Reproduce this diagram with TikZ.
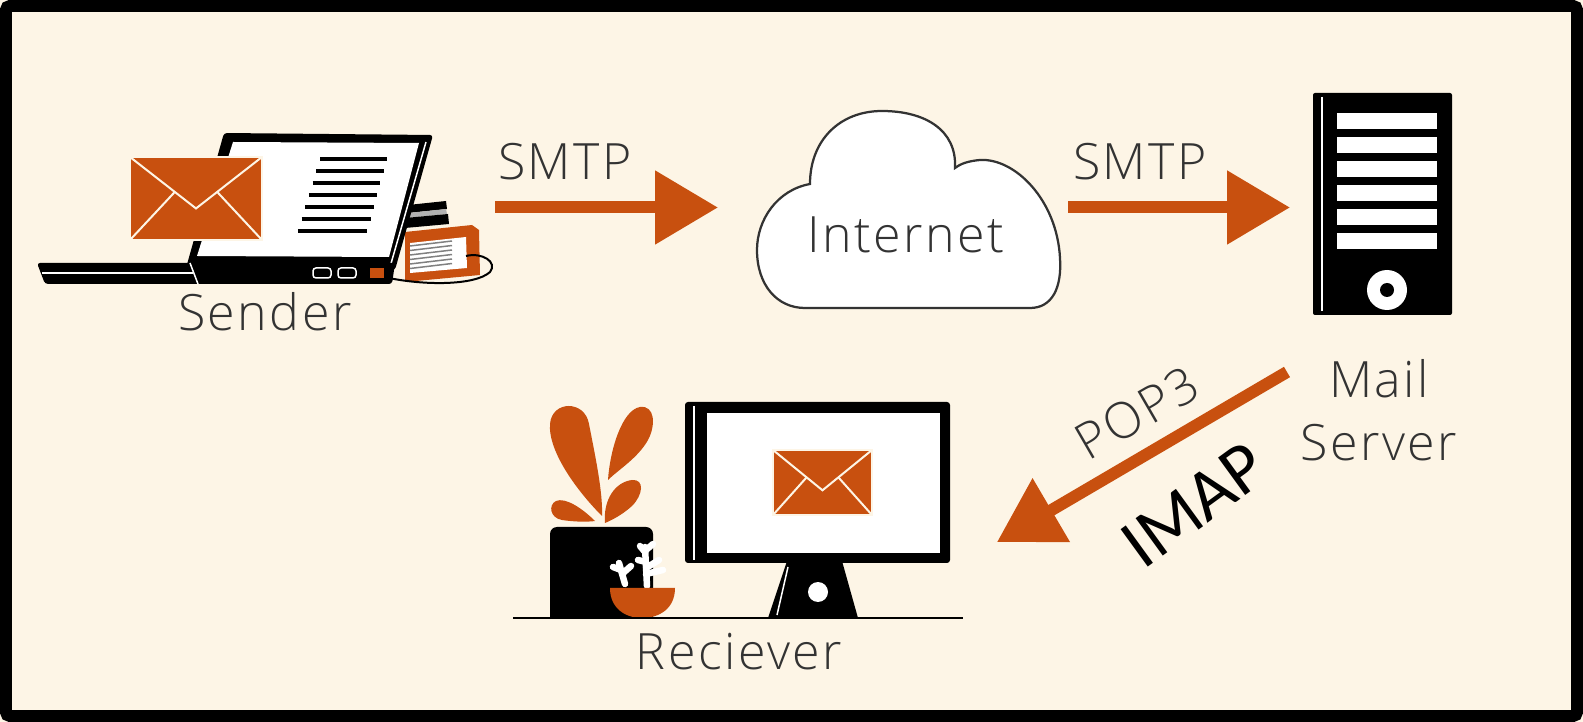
\documentclass[tikz,border=0pt]{standalone}
\usepackage{fontspec}
\usepackage{tikz}
\usetikzlibrary{arrows.meta,positioning}
\usepackage{xcolor}

\IfFontExistsTF{Open Sans Light}{\newfontfamily\lblfont[LetterSpace=5]{Open Sans Light}}{\newfontfamily\lblfont[LetterSpace=5]{Open Sans}}
\newfontfamily\handfont{Carlito}

\definecolor{paper}{HTML}{FDF5E6}
\definecolor{rust}{HTML}{C8500F}
\definecolor{ink}{HTML}{333333}

\tikzset{
  lbl/.style={text=ink, inner sep=0pt, font=\lblfont\fontsize{28.5}{36}\selectfont},
  handlbl/.style={text=black, inner sep=0pt, font=\handfont\fontsize{41}{44}\selectfont},
  flow/.style={draw=rust, line width=0.24cm, -{Triangle[length=1.26cm,width=1.42cm]}},
  fold/.style={draw=paper, line width=0.04cm},
  thinwhite/.style={draw=white, line width=0.03cm},
  coral/.style={draw=white, line width=0.13cm, line cap=round},
}

% envelope icon: left, top, right, bottom
\newcommand{\mailicon}[4]{%
  \filldraw[fill=rust, draw=paper, line width=0.05cm] (#1,#2) rectangle (#3,#4);
  \draw[fold] (#1,#2) -- ({(#1+#3)/2},{#2+0.62*(#4-#2)}) -- (#3,#2);
  \draw[fold] (#1,#4) -- ({#1+0.34*(#3-#1)},{#2+0.42*(#4-#2)});
  \draw[fold] (#3,#4) -- ({#3-0.34*(#3-#1)},{#2+0.42*(#4-#2)});
}

\begin{document}
\begin{tikzpicture}[x=0.02cm, y=-0.02cm]
\useasboundingbox (0,0) rectangle (1583,722);
\fill[paper] (0,0) rectangle (1583,722);
\draw[black, line width=0.24cm, rounded corners=0.08cm] (6,6) rectangle (1577,716);

% books behind the laptop
\fill[black] (408,205) -- (446,201) -- (447,209) -- (408,213) -- cycle;
\fill[gray!60] (408,213) -- (446,209) -- (447,214) -- (407,218) -- cycle;
\fill[black] (405,218) -- (448,214) -- (449,224) -- (405,228) -- cycle;
\fill[rust] (405,232) -- (472,225) -- (479,230) -- (480,275) -- (405,282) -- cycle;
\fill[white] (410,243) -- (466,237) -- (467,268) -- (410,273) -- cycle;
\foreach \i in {0,...,5}
  \draw[gray, line width=0.03cm] (410,246+4.5*\i) -- (452,241+4.5*\i);
\draw[black, line width=0.04cm] (380,276) .. controls (420,286) and (475,286) .. (490,272)
  .. controls (498,262) and (482,252) .. (466,256);

% laptop
\fill[black, rounded corners=0.06cm] (224,133) -- (433,135) -- (395,270) -- (186,268) -- cycle;
\fill[white] (233,142) -- (419,143) -- (389,257) -- (197,256) -- cycle;
\draw[thinwhite] (426,142) -- (390,267);
\fill[black, rounded corners=0.06cm] (37,263) -- (395,263) -- (392,284) -- (45,284) -- cycle;
\draw[thinwhite] (42,273) -- (193,273);
\draw[thinwhite] (190,263) -- (198,284);
\draw[thinwhite, rounded corners=0.06cm] (313,268) rectangle (331,278);
\draw[thinwhite, rounded corners=0.06cm] (338,268) rectangle (356,278);
\fill[rust] (370,268) rectangle (384,278);
\foreach \i in {0,...,6}
  \draw[black, line width=0.07cm] (320-3.7*\i,159+12*\i) -- (387-3.3*\i,159+12*\i);
\mailicon{130}{157}{262}{240}

% cloud
\filldraw[fill=white, draw=ink, line width=0.045cm]
  (805,308) -- (1030,308) .. controls (1052,308) and (1062,288) .. (1060,258)
  .. controls (1057,200) and (1015,158) .. (980,160)
  .. controls (968,161) and (960,164) .. (955,168)
  .. controls (957,130) and (925,111) .. (882,111)
  .. controls (840,111) and (810,140) .. (810,184)
  .. controls (777,190) and (757,220) .. (757,250)
  .. controls (757,285) and (777,308) .. (805,308) -- cycle;

% mail server
\fill[black, rounded corners=0.04cm] (1313,93) rectangle (1452,315);
\draw[thinwhite] (1322,97) -- (1322,311);
\foreach \y in {113,137,...,234}
  \fill[white] (1337,\y) rectangle (1437,\y+16);
\fill[white] (1387,290) circle[radius=0.4cm];
\fill[black] (1387,290) circle[radius=0.14cm];

% desk with plant and monitor
\fill[rust] (602,516) .. controls (578,492) and (548,452) .. (550,424)
  .. controls (552,400) and (585,400) .. (589,424)
  .. controls (595,455) and (603,492) .. (602,516) -- cycle;
\fill[rust] (608,480) .. controls (610,450) and (622,410) .. (640,407)
  .. controls (655,405) and (656,425) .. (648,440)
  .. controls (638,458) and (618,470) .. (608,480) -- cycle;
\fill[rust] (605,523) .. controls (603,500) and (615,482) .. (632,480)
  .. controls (645,479) and (643,495) .. (632,506)
  .. controls (622,515) and (612,520) .. (605,523) -- cycle;
\fill[rust] (595,521) .. controls (582,508) and (565,497) .. (556,501)
  .. controls (548,505) and (550,518) .. (562,520)
  .. controls (575,522) and (588,522) .. (595,521) -- cycle;
\fill[black, rounded corners=0.14cm] (550,640) -- (550,527) -- (653,527) -- (653,640) -- cycle;
\fill[paper] (540,619) rectangle (680,640);
\draw[coral] (647,586) -- (645,547);
\draw[coral] (645,552) -- (640,546);
\draw[coral] (646,550) -- (653,544);
\draw[coral] (646,562) -- (638,560);
\draw[coral] (646,568) -- (659,560);
\draw[coral] (646,574) -- (663,570);
\draw[coral] (625,584) -- (619,563);
\draw[coral] (621,570) -- (613,567);
\draw[coral] (622,574) -- (631,566);
\fill[rust] (610,588) -- (675,588) .. controls (675,608) and (660,618) .. (642,618)
  .. controls (625,618) and (610,608) .. (610,588) -- cycle;
\fill[black, rounded corners=0.06cm] (685,402) rectangle (950,563);
\fill[white] (707,413) rectangle (940,553);
\draw[thinwhite] (694,406) -- (694,560);
\fill[black] (787,561) -- (842,561) -- (858,618) -- (768,618) -- cycle;
\draw[thinwhite] (788,567) -- (777,615);
\fill[white] (818,592) circle[radius=0.2cm];
\mailicon{773}{450}{872}{515}
\draw[black, line width=0.04cm] (513,618) -- (963,618);

% labels
\node[lbl, anchor=base] (sender) at (265,331) {Sender};
\node[lbl, anchor=base] (internet) at (906,253) {Internet};
\node[lbl, align=center] (server) at (1379,410) {Mail\\Server};
\node[lbl, anchor=base] (receiver) at (739,670) {Reciever};
\node[lbl, anchor=base] (smtpa) at (565,180) {SMTP};
\node[lbl, anchor=base] (smtpb) at (1140,180) {SMTP};
\node[lbl, rotate=30] (pop) at (1137,413) {POP3};
\node[handlbl, rotate=36] (imap) at (1194,505) {IMAP};

% protocol arrows
\coordinate (sendout) at (495,207.5);
\coordinate (netin) at (718,207.5);
\coordinate (netout) at (1068,207.5);
\coordinate (srvin) at (1290,207.5);
\coordinate (srvout) at (1287,372);
\coordinate (rcvin) at (997,542);
\draw[flow] (sendout) -- (netin);
\draw[flow] (netout) -- (srvin);
\draw[flow] (srvout) -- (rcvin);
\end{tikzpicture}
\end{document}
